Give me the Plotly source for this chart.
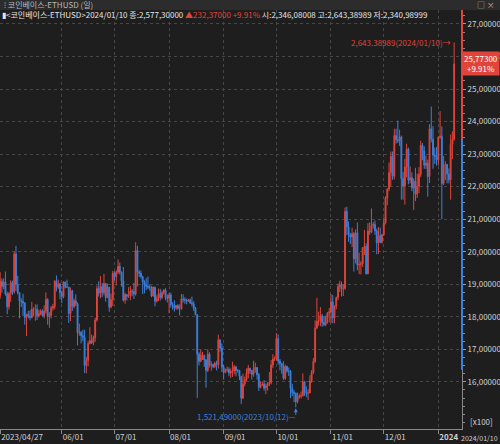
import pandas as pd
import plotly.graph_objects as go

RED = '#e0443a'
BLUE = '#3b80dc'
BG = '#1e1e1e'
GRID = '#474747'
TXT = '#d2d2d2'
FONT = 'Noto Sans CJK KR, sans-serif'

# daily candles 2023/04/27 .. 2024/01/10 (USD)
dates = pd.date_range('2023-04-27', '2024-01-10', freq='D')

opens = [
    1865, 1909, 1893, 1907,
    1870, 1831, 1871, 1905, 1877, 1993, 1899, 1874, 1848, 1847, 1842, 1798, 1808, 1802, 1798, 1823,
    1823, 1823, 1803, 1810, 1818, 1804, 1818, 1853, 1801, 1805, 1828, 1831, 1910, 1891, 1901,
    1874, 1862, 1907, 1892, 1891, 1810, 1880, 1832, 1849, 1840, 1751, 1752, 1742, 1737, 1650,
    1666, 1718, 1727, 1720, 1736, 1790, 1887, 1872, 1893, 1874, 1902, 1859, 1891, 1830, 1853,
    1934, 1923, 1937, 1955, 1937, 1910, 1851, 1868, 1863, 1865, 1879, 1877, 1870, 2004, 1937,
    1933, 1923, 1908, 1897, 1893, 1891, 1891, 1864, 1891, 1848, 1857, 1871, 1859, 1874, 1882, 1860,
    1857, 1867, 1838, 1836, 1827, 1834, 1826, 1825, 1855, 1853, 1851, 1848, 1852, 1842, 1840,
    1826, 1806, 1685, 1663, 1682, 1682, 1667, 1635, 1685, 1651, 1653, 1647, 1657, 1653, 1729, 1704,
    1645, 1629, 1636, 1638, 1627, 1633, 1633, 1646, 1635, 1635, 1617, 1550, 1593, 1606, 1626,
    1642, 1634, 1623, 1639, 1644, 1622, 1583, 1592, 1593, 1581, 1588, 1594, 1598, 1652, 1670,
    1671, 1733, 1664, 1656, 1647, 1611, 1647, 1633, 1633, 1580, 1567, 1565, 1539, 1553, 1556,
    1557, 1600, 1566, 1565, 1566, 1603, 1629, 1663, 1766, 1786, 1788, 1803, 1782, 1776, 1798, 1812,
    1815, 1846, 1796, 1833, 1859, 1893, 1899, 1886, 1887, 2124, 2076, 2052, 2045, 2055, 1978,
    2058, 1959, 1961, 1963, 2012, 2016, 1932, 2064, 2061, 2081, 2084, 2064, 2027, 2049, 2029,
    2052, 2088, 2165, 2193, 2243, 2293, 2232, 2357, 2344, 2341, 2353, 2225, 2202, 2260, 2315,
    2220, 2228, 2196, 2217, 2177, 2201, 2238, 2327, 2310, 2266, 2272, 2231, 2378, 2346, 2297, 2292,
    2282, 2352, 2355, 2210, 2267, 2268, 2239, 2221, 2330, 2346.08,
]
highs = [
    1937, 1918, 1918, 1939,
    1877, 1876, 1912, 1911, 2000, 2018, 1926, 1875, 1857, 1871, 1845, 1808, 1818, 1820, 1846, 1829,
    1838, 1838, 1822, 1823, 1823, 1835, 1875, 1857, 1814, 1833, 1840, 1912, 1927, 1914, 1904,
    1880, 1908, 1908, 1914, 1892, 1890, 1883, 1856, 1869, 1844, 1779, 1756, 1760, 1760, 1676,
    1726, 1768, 1745, 1742, 1797, 1896, 1909, 1925, 1904, 1932, 1903, 1902, 1891, 1871, 1941,
    1940, 1943, 1976, 1967, 1939, 1953, 1874, 1870, 1891, 1894, 1885, 1904, 2029, 2018, 1944,
    1942, 1926, 1912, 1919, 1924, 1899, 1895, 1893, 1892, 1866, 1887, 1886, 1880, 1885, 1888, 1869,
    1873, 1874, 1845, 1851, 1836, 1839, 1838, 1870, 1869, 1860, 1856, 1855, 1856, 1862, 1848,
    1830, 1808, 1691, 1699, 1692, 1683, 1670, 1700, 1691, 1663, 1656, 1662, 1665, 1745, 1730, 1718,
    1652, 1641, 1647, 1645, 1641, 1662, 1652, 1649, 1639, 1637, 1618, 1625, 1616, 1641, 1652,
    1642, 1636, 1665, 1659, 1646, 1627, 1601, 1601, 1605, 1595, 1599, 1630, 1667, 1685, 1678,
    1750, 1746, 1670, 1659, 1663, 1653, 1650, 1644, 1636, 1593, 1575, 1567, 1567, 1563, 1570,
    1626, 1603, 1586, 1577, 1620, 1636, 1673, 1789, 1858, 1816, 1830, 1809, 1802, 1804, 1814, 1827,
    1870, 1867, 1834, 1862, 1902, 1911, 1908, 1900, 2136, 2138, 2093, 2058, 2074, 2061, 2069,
    2090, 1997, 1971, 2014, 2067, 2026, 2088, 2090, 2133, 2091, 2096, 2071, 2076, 2074, 2055,
    2105, 2170, 2195, 2274, 2308, 2308, 2378, 2378, 2403, 2375, 2357, 2245, 2285, 2332, 2320,
    2262, 2244, 2225, 2258, 2240, 2260, 2341, 2334, 2324, 2295, 2283, 2392, 2446, 2386, 2320, 2322,
    2354, 2432, 2385, 2294, 2278, 2270, 2256, 2360, 2370, 2643.38989,
]
lows = [
    1856, 1874, 1885, 1865,
    1808, 1822, 1846, 1867, 1871, 1880, 1869, 1795, 1830, 1802, 1776, 1741, 1795, 1789, 1795, 1801,
    1788, 1790, 1798, 1805, 1801, 1795, 1810, 1776, 1766, 1795, 1819, 1823, 1878, 1886, 1854,
    1842, 1857, 1887, 1889, 1781, 1787, 1818, 1826, 1832, 1712, 1742, 1718, 1725, 1627, 1626,
    1648, 1715, 1716, 1712, 1723, 1785, 1862, 1857, 1860, 1866, 1846, 1858, 1815, 1826, 1833,
    1911, 1896, 1932, 1930, 1893, 1847, 1840, 1850, 1858, 1851, 1863, 1855, 1865, 1893, 1922,
    1918, 1870, 1872, 1882, 1885, 1880, 1860, 1862, 1832, 1844, 1848, 1850, 1855, 1868, 1851, 1844,
    1811, 1828, 1822, 1816, 1821, 1822, 1804, 1821, 1844, 1840, 1838, 1846, 1840, 1832, 1818,
    1805, 1550, 1650, 1660, 1667, 1646, 1582, 1630, 1644, 1634, 1642, 1642, 1635, 1641, 1693, 1630,
    1607, 1626, 1630, 1617, 1612, 1615, 1623, 1617, 1628, 1605, 1532, 1547, 1586, 1603, 1611,
    1624, 1607, 1616, 1628, 1607, 1572, 1580, 1587, 1573, 1562, 1573, 1587, 1592, 1642, 1664,
    1666, 1653, 1635, 1625, 1606, 1606, 1628, 1618, 1550, 1556, 1538, 1521.49, 1534, 1548, 1549,
    1555, 1557, 1553, 1544, 1565, 1597, 1624, 1658, 1762, 1772, 1771, 1769, 1771, 1771, 1779, 1783,
    1781, 1780, 1780, 1823, 1851, 1876, 1862, 1864, 1883, 2051, 2030, 2024, 2014, 1939, 1964,
    1943, 1931, 1930, 1953, 1990, 1930, 1931, 2052, 2057, 2071, 2052, 1992, 1993, 2026, 2025,
    2048, 2084, 2143, 2186, 2200, 2221, 2222, 2332, 2334, 2325, 2160, 2160, 2145, 2229, 2207,
    2210, 2186, 2128, 2156, 2165, 2180, 2230, 2281, 2255, 2254, 2169, 2211, 2336, 2255, 2270, 2265,
    2265, 2347, 2100, 2205, 2220, 2210, 2210, 2160, 2285, 2340.98999,
]
closes = [
    1909, 1893, 1907, 1870,
    1831, 1871, 1905, 1877, 1993, 1899, 1874, 1848, 1847, 1842, 1798, 1808, 1802, 1798, 1823, 1823,
    1823, 1803, 1810, 1818, 1804, 1818, 1853, 1801, 1805, 1828, 1831, 1910, 1891, 1901, 1874,
    1862, 1907, 1892, 1891, 1810, 1880, 1832, 1849, 1840, 1751, 1752, 1742, 1737, 1650, 1666,
    1718, 1727, 1720, 1736, 1790, 1887, 1872, 1893, 1874, 1902, 1859, 1891, 1830, 1853, 1934,
    1923, 1937, 1955, 1937, 1910, 1851, 1868, 1863, 1865, 1879, 1877, 1870, 2004, 1937, 1933,
    1923, 1908, 1897, 1893, 1891, 1891, 1864, 1891, 1848, 1857, 1871, 1859, 1874, 1882, 1860, 1857,
    1867, 1838, 1836, 1827, 1834, 1826, 1825, 1855, 1853, 1851, 1848, 1852, 1842, 1840, 1826,
    1806, 1685, 1663, 1682, 1682, 1667, 1635, 1685, 1651, 1653, 1647, 1657, 1653, 1729, 1704, 1645,
    1629, 1636, 1638, 1627, 1633, 1633, 1646, 1635, 1635, 1617, 1550, 1593, 1606, 1626, 1642,
    1634, 1623, 1639, 1644, 1622, 1583, 1592, 1593, 1581, 1588, 1594, 1598, 1652, 1670, 1671,
    1733, 1664, 1656, 1647, 1611, 1647, 1633, 1633, 1580, 1567, 1565, 1539, 1553, 1556, 1557,
    1600, 1566, 1565, 1566, 1603, 1629, 1663, 1766, 1786, 1788, 1803, 1782, 1776, 1798, 1812, 1815,
    1846, 1796, 1833, 1859, 1893, 1899, 1886, 1887, 2124, 2076, 2052, 2045, 2055, 1978, 2058,
    1959, 1961, 1963, 2012, 2016, 1932, 2064, 2061, 2081, 2084, 2064, 2027, 2049, 2029, 2052,
    2088, 2165, 2193, 2243, 2293, 2232, 2357, 2344, 2341, 2353, 2225, 2202, 2260, 2315, 2220,
    2228, 2196, 2217, 2177, 2201, 2238, 2327, 2310, 2266, 2272, 2231, 2378, 2346, 2297, 2292, 2282,
    2352, 2355, 2210, 2267, 2268, 2239, 2221, 2330, 2344.93, 2577.30,
]

month_ticks = ['2023-04-27', '2023-06-01', '2023-07-01', '2023-08-01', '2023-09-01',
               '2023-10-01', '2023-11-01', '2023-12-01', '2024-01-01']
month_labels = ['2023/04/27', '06/01', '07/01', '08/01', '09/01',
                '10/01', '11/01', '12/01', '<b>2024</b>']
price_ticks = [1600, 1700, 1800, 1900, 2000, 2100, 2200, 2300, 2400, 2500, 2600, 2700]
price_labels = [f'{v // 100},00000' for v in price_ticks]

Y_LO, Y_HI = 1455, 2743
last_close = closes[-1]
last_open = opens[-1]
hi_i = highs.index(max(highs))
lo_i = lows.index(min(lows))

fig = go.Figure()
fig.add_trace(go.Candlestick(
    x=dates, open=opens, high=highs, low=lows, close=closes,
    increasing=dict(line=dict(color=RED, width=1), fillcolor=RED),
    decreasing=dict(line=dict(color=BLUE, width=1), fillcolor=BLUE),
    whiskerwidth=0, showlegend=False, hoverinfo='skip'))

fig.update_layout(
    width=500, height=444,
    margin=dict(l=0, r=38, t=10, b=15, autoexpand=False),
    paper_bgcolor=BG, plot_bgcolor=BG,
    font=dict(family=FONT, size=8, color=TXT),
    showlegend=False,
)
fig.update_xaxes(
    type='date', range=['2023-04-26 22:00', '2024-01-14 11:00'],
    rangeslider=dict(visible=False), automargin=False,
    tickmode='array', tickvals=month_ticks, ticktext=month_labels,
    ticklabelposition='outside right',
    ticks='outside', ticklen=4, tickcolor='#888',
    showgrid=True, gridcolor=GRID, griddash='dot', gridwidth=1,
    showline=True, linecolor='#888', linewidth=1,
    tickfont=dict(size=8, color=TXT), zeroline=False,
)
fig.update_yaxes(
    side='right', range=[Y_LO, Y_HI], automargin=False,
    tickmode='array', tickvals=price_ticks, ticktext=price_labels,
    ticks='outside', ticklen=3, tickcolor='#999',
    minor=dict(ticks='outside', ticklen=2, tickcolor='#888', tickmode='linear', tick0=1600, dtick=25,
               showgrid=False),
    showgrid=True, gridcolor=GRID, griddash='dot', gridwidth=1,
    showline=True, linecolor='#888', linewidth=1,
    tickfont=dict(size=8, color=TXT), zeroline=False,
)

# coloured strip on the price axis
fig.add_shape(type='line', xref='paper', yref='y', x0=1, x1=1, y0=last_open, y1=Y_HI,
              line=dict(color=RED, width=2))
fig.add_shape(type='line', xref='paper', yref='y', x0=1, x1=1, y0=1637, y1=last_open,
              line=dict(color=BLUE, width=2))

# window title bar (paper y: plot spans pixels 10..429)
fig.add_shape(type='rect', xref='paper', yref='paper', x0=-0.01, x1=1.1, y0=1.0, y1=1.03,
              fillcolor='#2c2c2c', line=dict(width=0), layer='above')
fig.add_annotation(xref='paper', yref='paper', x=0.005, y=1.012, xanchor='left', yanchor='middle',
                   text='⁝ 코인베이스-ETHUSD (일)', showarrow=False,
                   font=dict(size=8, color='#b8b8b8'))
fig.add_annotation(xref='paper', yref='paper', x=1.075, y=1.012, xanchor='right', yanchor='middle',
                   text='□ ×', showarrow=False, font=dict(size=8, color='#b8b8b8'))

# info line
info = ('▮&lt;코인베이스-ETHUSD&gt;2024/01/10 종:2,577,30000 '
        f'<span style="color:{RED}">▲232,37000 +9.91%</span> '
        '시:2,346,08008 고:2,643,38989 저:2,340,98999')
fig.add_annotation(xref='paper', yref='paper', x=0.0, y=0.990, xanchor='left', yanchor='middle',
                   text=info, showarrow=False, font=dict(size=8, color='#e4e4e4'))

# current price box
fig.add_annotation(xref='paper', yref='y', x=1.0, y=last_close, xanchor='left', yanchor='middle',
                   text='25,77300<br>+9.91%', showarrow=False, align='center',
                   bgcolor=RED, borderpad=1, font=dict(size=8, color='white'))

# high / low markers
fig.add_annotation(x=dates[hi_i], y=highs[hi_i], xanchor='right', yanchor='middle', xshift=-1,
                   text='2,643.38989(2024/01/10)→', showarrow=False,
                   font=dict(size=8, color=RED))
fig.add_annotation(x=dates[lo_i], y=lows[lo_i], xanchor='right', yanchor='middle', yshift=-9, xshift=2,
                   text='1,521,49000(2023/10/12)—', showarrow=False,
                   font=dict(size=8, color=BLUE))
fig.add_annotation(x=dates[lo_i], y=lows[lo_i], ax=0, ay=9, text='', showarrow=True,
                   arrowhead=2, arrowsize=0.8, arrowwidth=1, arrowcolor=BLUE, standoff=1)

# axis corner texts
fig.add_annotation(xref='paper', yref='paper', x=1.0, y=0.0, xanchor='left', yanchor='bottom', xshift=6,
                   text='[x100]', showarrow=False, font=dict(size=8, color=TXT))
fig.add_annotation(xref='paper', yref='paper', x=500 / 462, y=0.0, xanchor='right', yanchor='top', yshift=-2,
                   text='2024/01/10', showarrow=False, font=dict(size=7, color=TXT))

# page body margin would offset the chart inside the window
fig.write_html('out.html', config={'displayModeBar': False},
               post_script="document.body.style.margin='0';document.body.style.background='%s';" % BG)
